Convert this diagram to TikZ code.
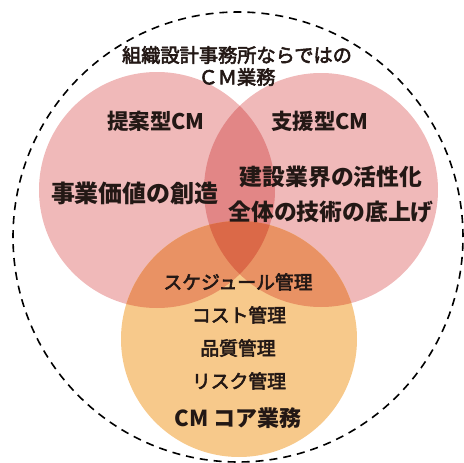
\documentclass[tikz,border=0pt]{standalone}
\usepackage{fontspec}
\setmainfont{Noto Sans CJK JP}
\newfontfamily\jpmed[FakeBold=3]{Noto Sans CJK JP}
\definecolor{pinkc}{HTML}{F0B9B9}
\definecolor{orangec}{HTML}{F7C98B}
\definecolor{lensc}{HTML}{E28686}
\definecolor{lowlensc}{HTML}{E99264}
\definecolor{triplec}{HTML}{DB6948}
\definecolor{txt}{HTML}{231815}
\tikzset{
  lbl/.style={text=txt, inner sep=0pt, anchor=center},
  big/.style={lbl, font=\fontsize{21.5}{25}\selectfont\bfseries},
  huge/.style={lbl, font=\fontsize{22.8}{27}\selectfont\bfseries},
  mid/.style={lbl, font=\jpmed\fontsize{18.8}{22}\selectfont},
}
\begin{document}
\begin{tikzpicture}[x=1pt,y=-1pt]
\useasboundingbox (0,0) rectangle (464,463);
\coordinate (L) at (157,190);
\coordinate (R) at (321,190);
\coordinate (B) at (239,339);
\coordinate (O) at (238,237);
% base circles
\fill[pinkc] (L) circle[radius=118pt];
\fill[pinkc] (R) circle[radius=117pt];
\fill[orangec] (B) circle[radius=118pt];
% overlaps
\begin{scope}
  \clip (L) circle[radius=118pt];
  \fill[lensc] (R) circle[radius=117pt];
\end{scope}
\begin{scope}
  \clip (B) circle[radius=118pt];
  \fill[lowlensc] (L) circle[radius=118pt];
  \fill[lowlensc] (R) circle[radius=117pt];
\end{scope}
\begin{scope}
  \clip (B) circle[radius=118pt];
  \clip (L) circle[radius=118pt];
  \fill[triplec] (R) circle[radius=117pt];
\end{scope}
% outer dashed circle
\draw[line width=1.6pt, dash pattern=on 8pt off 6pt] (O) circle[radius=225pt];
% texts
\node[mid, align=center, font=\jpmed\fontsize{19.2}{22}\selectfont] (title) at (237,66) {組織設計事務所ならではの\\ＣＭ業務};
\node[big] (teian) at (156,121) {提案型CM};
\node[big] (shien) at (320,121) {支援型CM};
\node[huge, font=\fontsize{24}{28}\selectfont\bfseries] (jigyo) at (135,193) {事業価値の創造};
\node[huge] (kensetsu) at (331,177) {建設業界の活性化};
\node[huge] (zentai) at (331,212) {全体の技術の底上げ};
\node[mid] (sched) at (238,282) {スケジュール管理};
\node[mid] (cost) at (239,315) {コスト管理};
\node[mid] (hinshitsu) at (238,348) {品質管理};
\node[mid] (risk) at (239,381) {リスク管理};
\node[big, font=\fontsize{22}{26}\selectfont\bfseries] (core) at (238,418) {CM コア業務};
\end{tikzpicture}
\end{document}
